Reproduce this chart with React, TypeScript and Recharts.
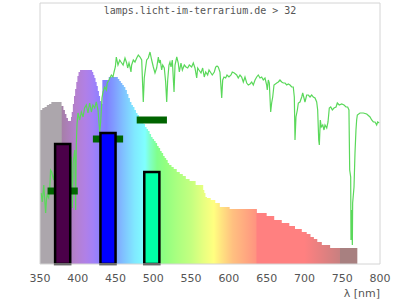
import React from 'react';
import {
  ComposedChart,
  Area,
  Line,
  XAxis,
  YAxis,
  ReferenceArea,
  ReferenceLine,
  Label,
} from 'recharts';

// lamp spectrum (step envelope), wavelength in nm and relative level
const spectrumNm = [
  350, 353, 356, 359, 362, 365, 378.5, 381, 383, 385, 387, 391, 392, 393.5, 395, 396.5, 398, 399.5,
  401, 403, 419, 420.5, 422, 423.5, 425, 426.5, 428, 429.5, 431, 432.5, 441, 453, 455, 457, 459,
  461, 463, 465, 467, 469, 471, 473, 475, 477, 479, 481, 483, 485, 487, 489, 491, 493, 495, 497,
  499, 501, 503, 505, 507, 509, 511, 513, 515, 517, 519, 521, 524, 527, 531, 535, 539, 543, 548,
  556, 566, 567.5, 569, 571, 576, 582, 588, 601, 637, 650, 660, 670, 680, 687.5, 696.5, 703, 708,
  712.5, 717, 723, 734, 770,
];
const spectrumLevel = [
  154, 156, 157, 159, 160, 162, 158, 154, 150, 146, 143, 147, 152, 160, 168, 175, 182, 188,
  192, 194, 192, 189, 186, 182, 178, 173, 168, 163, 160, 184, 187, 185, 183, 181, 179,
  177, 174, 170, 166, 162, 159, 157, 154, 151, 149, 147, 145, 143, 140, 137, 135, 133, 130, 127,
  125, 123, 121, 118, 116, 113, 111, 108, 106, 104, 101, 99, 97, 95, 92, 90, 88, 85, 83,
  79, 74, 71, 67, 66, 64, 61, 57, 55, 51, 48, 44, 41, 38, 35, 32, 30, 27,
  25, 22, 19, 16, 16,
];

// sunlight reference curve
const sunNm = [
  351.5, 353, 355, 356, 357.5, 358.5, 359.5, 361.5, 363, 364, 365.5, 368, 371, 374, 377, 380, 383,
  386, 389, 391.5, 392.8, 394, 396, 397.2, 398, 399, 400.3, 402.5, 404.7, 407, 409, 411.3, 413.5,
  415.7, 418, 420, 422.4, 424.5, 426.8, 429, 430.3, 432, 433.4, 435.6, 437.8, 439, 441.3, 444.4,
  446.6, 448, 449.7, 451, 453.2, 455.5, 457.2, 460, 462.5, 464.7, 466, 467.8, 469.1, 470.4, 471.3,
  473.5, 475.7, 478, 480.1, 482.4, 484.6, 486.7, 488, 489.9, 491.2, 493.3, 495.6, 497.8, 500,
  502.2, 504.4, 506.6, 507.9, 509.2, 511, 512.4, 514.5, 516.3, 517.7, 519, 520.7, 522, 523.4,
  525.1, 527.4, 528.7, 531, 533, 534.4, 536.6, 538.4, 541, 543.2, 545.5, 547.6, 550.7, 552.9,
  555.1, 557.4, 558.7, 560.4, 563.1, 565.3, 567.4, 569.3, 571.9, 573.7, 576.3, 578, 580.7, 582.5,
  584.3, 586, 588.2, 589.2, 590.5, 591.8, 593.5, 595.7, 597.5, 600.1, 602.8, 604.5, 607.2, 610.3,
  612.4, 614.7, 616.9, 619.1, 621.3, 623.6, 625.7, 628, 630.2, 632.3, 634.6, 636.8, 638.9, 641.2,
  643.4, 645.5, 647.8, 650, 650.8, 652.2, 653.5, 655.3, 656.6, 658, 659.7, 663.3, 665.4, 667.6,
  669.9, 672, 674.3, 676.5, 678.6, 680.9, 683.1, 685.2, 686.6, 687.5, 688.8, 690.6, 691.9, 694.1,
  696.4, 697.7, 699.4, 700.7, 703, 705.1, 707.4, 709.6, 711.7, 714, 716.2, 717.5, 718.9, 719.7,
  721, 722.3, 724.2, 725.9, 727.2, 729.5, 731.2, 732.9, 734.8, 736.9, 739.1, 741.8, 743.5, 746.1,
  749.3, 752.4, 755, 757.2, 758.9, 759.9, 761.2, 761.6, 762.5, 763.4, 763.8, 765.6, 766.9, 768.2,
  769.1, 770, 773.5, 777.9, 782.4, 786.8, 789, 791.2, 793.4, 795.6, 796.9, 799.1,
];
const sunLevel = [
  71, 62, 79, 67, 51, 64, 69, 66, 77, 94, 92, 84, 101, 86, 104, 96, 112,
  92, 110, 106, 56, 102, 114, 54, 119, 140, 151, 144, 152, 147, 156, 159, 151,
  161, 152, 159, 156, 162, 154, 132, 142, 166, 172, 177, 174, 181, 184, 189,
  187, 192, 197, 207, 199, 204, 202, 199, 206, 201, 196, 201, 197, 192, 199,
  204, 202, 206, 209, 207, 204, 162, 186, 197, 204, 206, 212, 204, 197,
  191, 196, 207, 201, 204, 194, 199, 196, 182, 162, 184, 199, 202, 197,
  204, 172, 199, 207, 201, 192, 201, 194, 199, 197, 196, 199, 197, 201,
  196, 186, 196, 194, 191, 196, 187, 192, 189, 194, 191, 189, 192, 197,
  198, 197, 192, 181, 166, 184, 187, 186, 189, 187, 189, 192, 191, 189,
  186, 189, 187, 182, 187, 181, 179, 180, 182, 179, 184, 187, 189, 186,
  187, 184, 186, 179, 174, 184, 181, 152, 161, 167, 179, 181, 182, 184,
  182, 181, 181, 179, 180, 179, 177, 177, 167, 124, 147, 154, 161, 162,
  167, 171, 166, 162, 169, 169, 167, 169, 167, 166, 162, 154, 124, 119,
  144, 137, 139, 134, 139, 136, 142, 156, 157, 154, 156, 157, 161, 159,
  160, 159, 157, 157, 154, 94, 87, 24, 54, 19, 61, 77, 111, 134,
  144, 149, 151, 151, 150, 147, 144, 142, 142, 139, 142, 141,
];

// LEDs: peak wavelength, bar height, marker level
const ledPeak = [380, 440, 498];
const ledHeight = [120, 131, 92];
const ledMarker = [73, 125, 144];

const xTicks = [350, 400, 450, 500, 550, 600, 650, 700, 750, 800];

const ledColors = ['#4b0049', '#0000ff', '#00ffa6'];

// colour along the spectrum (nm -> colour)
const specColors: [number, string][] = [
  [350, '#aca6ac'], [378.4, '#aca6ac'], [378.6, '#a67fa7'], [388, '#ad7fbb'], [398, '#b580d0'],
  [410, '#b080e6'], [420, '#a380f6'], [430, '#8c80ff'], [438, '#8080ff'], [448, '#809cff'],
  [460, '#80c0ff'], [475, '#80e8ff'], [489, '#80ffff'], [496, '#80ffc4'], [505, '#80ff8c'],
  [515, '#90ff80'], [530, '#a8ff80'], [550, '#c4ff80'], [567, '#e8ff80'], [580, '#ffff80'],
  [590, '#ffe480'], [605, '#ffc080'], [620, '#ffab80'], [636, '#ff9480'], [637, '#ff8080'],
  [700, '#ff8080'], [720, '#e88080'], [746.8, '#c88080'], [747, '#a88080'], [770, '#a88080'],
];

const spectrumData = spectrumNm.map((nm, i) => ({ nm, level: spectrumLevel[i] }));
const sunData = sunNm.map((nm, i) => ({ nm, level: sunLevel[i] }));

const specStart = spectrumNm[0];
const specEnd = spectrumNm[spectrumNm.length - 1];

export default function App() {
  return (
    <div style={{ position: 'absolute', left: 0, top: 0, width: 400, height: 300, background: '#fff' }}>
      <ComposedChart width={400} height={300} margin={{ top: 3, right: 20, bottom: 0, left: 40 }}>
        <defs>
          <linearGradient id="specFill" x1="0" y1="0" x2="1" y2="0">
            {specColors.map(([nm, c]) => (
              <stop key={nm} offset={(nm - specStart) / (specEnd - specStart)} stopColor={c} />
            ))}
          </linearGradient>
        </defs>
        <XAxis
          dataKey="nm"
          type="number"
          domain={[350, 800]}
          ticks={xTicks}
          interval={0}
          allowDataOverflow
          height={36}
          tickLine={false}
          axisLine={false}
          tickMargin={4}
          tick={{ fill: '#555', fontSize: 11, fontFamily: 'DejaVu Sans' }}
        >
          <Label
            value="λ [nm]"
            position="insideBottomRight"
            offset={0}
            dy={-3}
            fill="#555"
            fontSize={11}
            fontFamily="DejaVu Sans"
          />
        </XAxis>
        <YAxis type="number" domain={[0, 261]} hide allowDataOverflow />
        <Area
          data={spectrumData}
          dataKey="level"
          type="stepAfter"
          stroke="none"
          fill="url(#specFill)"
          fillOpacity={1}
          isAnimationActive={false}
          zIndex={100}
        />
        <Line
          data={sunData}
          dataKey="level"
          type="linear"
          stroke="#5ad85a"
          strokeWidth={1.2}
          dot={false}
          activeDot={false}
          isAnimationActive={false}
          zIndex={200}
        />
        {ledPeak.map((p, i) => (
          <ReferenceLine
            key={'m' + p}
            segment={[{ x: p - 20, y: ledMarker[i] }, { x: p + 20, y: ledMarker[i] }]}
            stroke="#006400"
            strokeWidth={7}
            zIndex={300}
          />
        ))}
        {ledPeak.map((p, i) => (
          <ReferenceArea
            key={'b' + p}
            x1={p - 10}
            x2={p + 10}
            y1={0}
            y2={ledHeight[i]}
            fill={ledColors[i]}
            fillOpacity={1}
            stroke="#000"
            strokeWidth={2.5}
            zIndex={400}
          />
        ))}
        <ReferenceArea
          x1={350}
          x2={800}
          y1={0}
          y2={261}
          fill="none"
          stroke="#d4d4d4"
          strokeWidth={1}
          zIndex={450}
        />
      </ComposedChart>
      <div
        style={{
          position: 'absolute',
          left: 0,
          top: 6,
          width: 400,
          textAlign: 'center',
          fontFamily: '"DejaVu Sans Mono"',
          fontSize: 10,
          lineHeight: '10px',
          color: '#555',
        }}
      >
        lamps.licht-im-terrarium.de &gt; 32
      </div>
    </div>
  );
}
